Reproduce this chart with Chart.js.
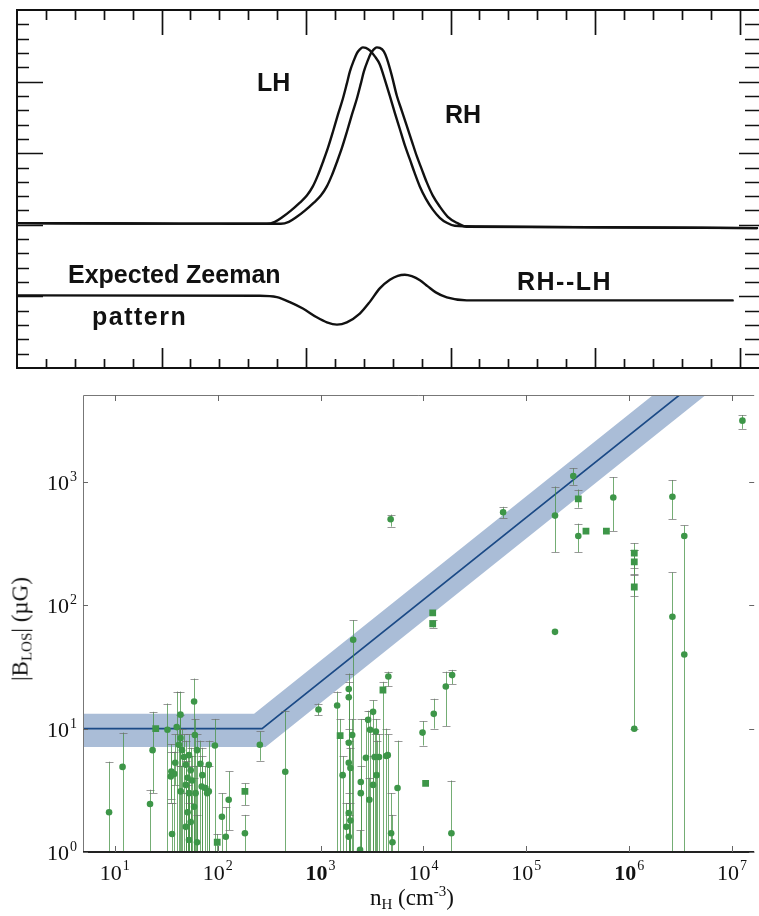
<!DOCTYPE html>
<html><head><meta charset="utf-8">
<script src="https://cdn.jsdelivr.net/npm/chart.js@4/dist/chart.umd.min.js"></script>
<style>
html,body{margin:0;padding:0;background:#fff;overflow:hidden;width:759px;height:916px;position:relative}
#cTop{position:absolute;left:0;top:0}
#cBot{position:absolute;left:0;top:380px}
.lbl{position:absolute;font-family:"Liberation Sans",Arial,sans-serif;font-weight:bold;font-size:25px;color:#111;white-space:nowrap;line-height:1}
.ax{position:absolute;font-family:"Liberation Serif","Times New Roman",serif;font-size:23px;color:#111;white-space:nowrap;line-height:1}
.sm{font-size:15px;position:relative}
</style></head><body>
<canvas id="cTop" width="759" height="380"></canvas>
<canvas id="cBot" width="759" height="536"></canvas>

<div class="lbl" style="left:257px;top:70px">LH</div>
<div class="lbl" style="left:445px;top:102px">RH</div>
<div class="lbl" style="left:68px;top:262px">Expected Zeeman</div>
<div class="lbl" style="left:92px;top:304px;letter-spacing:1.5px">pattern</div>
<div class="lbl" style="left:517px;top:269px;letter-spacing:1.5px">RH--LH</div>

<div class="ax" style="left:370px;top:886px">n<span class="sm" style="top:4px">H</span> (cm<span class="sm" style="top:-9px">-3</span>)</div>
<div class="ax" style="left:20px;top:629px;transform:translate(-50%,-50%) rotate(-90deg)">|B<span class="sm" style="top:4px">LOS</span>| (µG)</div>

<script>
// ---------- Top panel: Zeeman pattern (arbitrary channel / intensity units) ----------
const lhX = [0, 4, 7, 8.645, 8.921, 9.198, 9.474, 9.786, 10.028, 10.235, 10.408, 10.581, 10.754, 10.927, 11.100, 11.273, 11.411, 11.515, 11.653, 11.757, 11.861, 11.964, 12.068, 12.206, 12.379, 12.552, 12.725, 12.898, 13.071, 13.244, 13.416, 13.589, 13.762, 13.935, 14.142, 14.385, 14.627, 14.869, 15.145, 16, 20, 25.6];
const lhY = [10.12, 10.09, 10.08, 10.07, 10.21, 10.56, 10.99, 11.55, 12.04, 12.68, 13.45, 14.37, 15.35, 16.48, 17.68, 18.80, 19.86, 20.70, 21.48, 21.97, 22.25, 22.39, 22.36, 22.18, 21.76, 21.20, 20.14, 19.01, 17.82, 16.69, 15.56, 14.58, 13.59, 12.68, 11.83, 11.06, 10.49, 10.14, 9.93, 9.88, 9.83, 9.77];
const rhX = [0, 4, 7, 8.645, 9.129, 9.405, 9.682, 9.959, 10.270, 10.512, 10.719, 10.892, 11.065, 11.238, 11.411, 11.584, 11.757, 11.895, 11.999, 12.137, 12.241, 12.344, 12.448, 12.552, 12.690, 12.794, 12.967, 13.140, 13.313, 13.485, 13.658, 13.831, 14.004, 14.177, 14.385, 14.627, 14.903, 15.214, 15.560, 20, 25.6];
const rhY = [10.12, 10.09, 10.08, 10.07, 10.07, 10.21, 10.56, 10.99, 11.55, 12.04, 12.68, 13.45, 14.37, 15.35, 16.48, 17.68, 18.80, 19.86, 20.70, 21.48, 21.97, 22.25, 22.39, 22.36, 22.11, 21.62, 20.42, 19.01, 17.96, 16.90, 15.85, 14.79, 13.87, 12.96, 12.04, 11.27, 10.56, 10.14, 9.86, 9.83, 9.77];
const diffX = [0, 8.40, 8.99, 9.44, 9.89, 10.37, 10.72, 11.07, 11.41, 11.86, 12.20, 12.55, 12.90, 13.174, 13.416, 13.658, 13.94, 14.212, 14.488, 14.87, 15.56, 24.76];
const diffY = [5.07, 5.05, 4.95, 4.60, 4.15, 3.54, 3.19, 3.03, 3.19, 3.80, 4.60, 5.56, 6.16, 6.44, 6.51, 6.41, 6.13, 5.70, 5.28, 4.93, 4.72, 4.72];

// ---------- Bottom panel: |B_LOS| vs n_H ----------
const circN  = [8.8, 11.9, 22, 23.3, 32.5, 35.5, 36, 38.7, 40, 43.5, 43.5, 42, 45, 47, 49, 52.6, 54.7, 51, 56.5, 49, 52.6, 61, 59, 51, 54.7, 49, 52.6, 59, 60, 63, 63, 68, 71, 70, 76, 79, 82, 82, 94, 43.7, 37.8, 35, 110, 120, 128, 184, 257, 454, 955, 2075, 1450, 1880, 1880, 1880, 1880, 1950, 1640, 1880, 1950, 1780, 1880, 2030, 2460, 2460, 2420, 2760, 2900, 3030, 2980, 3240, 3240, 3350, 3450, 3500, 3700, 4560, 4350, 4500, 5600, 4850, 5000, 9800, 12600, 16500, 19000, 18700, 4800, 59500, 2.86e5, 1.9e5, 1.9e5, 3.2e5, 7.0e5, 1.12e6, 2.63e6, 2.63e6, 3.43e6, 3.43e6, 1.26e7];
const circB  = [2.1, 4.9, 2.45, 6.7, 9.8, 4.5, 1.4, 5.3, 10.3, 13, 8.4, 7.4, 6.7, 5.9, 5.1, 6.1, 4.6, 4.0, 3.8, 3.5, 3.0, 3.0, 2.33, 2.1, 1.75, 1.6, 1.25, 16.6, 8.9, 1.2, 6.7, 5.2, 4.2, 3.4, 3.3, 3.0, 5.1, 3.1, 7.3, 3.1, 4.3, 4.1, 1.93, 1.33, 2.65, 1.42, 7.4, 4.47, 14.3, 52.7, 15.4, 21, 18, 7.7, 5.3, 4.8, 4.2, 2.07, 1.8, 1.6, 1.33, 8.9, 3.7, 3.0, 1.04, 5.8, 11.8, 9.8, 2.65, 13.7, 3.5, 5.9, 9.5, 4.2, 5.9, 26.5, 6.0, 6.1, 3.3, 1.42, 1.2, 9.3, 13.2, 22, 27.2, 1.42, 500, 570, 1120, 535, 61, 365, 750, 10, 760, 81, 365, 40, 3150];
const circLo = [0.5, 0.5, 0.5, 3.0, 0.5, 2.7, 0.5, 3.5, 0.5, 0.5, 5, 0.5, 0.5, 0.5, 0.5, 0.5, 0.5, 0.5, 0.5, 0.5, 0.5, 0.5, 0.5, 0.5, 0.5, 0.5, 0.5, 0.5, 0.5, 0.5, 0.5, 0.5, 0.5, 0.5, 0.5, 0.5, 0.5, 0.5, 0.5, 0.5, 0.5, 2.5, 0.5, 0.5, 1.5, 0.5, 5.5, 0.5, 12.8, 0.5, 0.5, 0.5, 0.5, 0.5, 0.5, 0.5, 0.5, 0.5, 0.5, 0.5, 0.5, 0.5, 0.5, 0.5, 0.5, 0.5, 0.5, 0.5, 0.5, 0.5, 0.5, 0.5, 0.5, 0.5, 0.5, 22, 0.5, 0.5, 0.5, 0.5, 0.5, 7.3, 10, 10.5, 23, 0.5, 435, 510, 950, 270, 61, 270, 400, 10, 500, 0.5, 0.5, 40, 2700];
const circHi = [5.4, 9.3, 3.2, 13.7, 16, 7.5, 2.5, 9, 20, 20, 13, 10, 10, 9, 8, 9, 7, 6, 6, 5.5, 5, 5, 4, 3.5, 3, 3, 2.5, 25.5, 12, 2, 9, 8, 7, 6, 5, 5, 8, 5, 12, 5, 6.5, 6.5, 3, 2.3, 4.5, 2, 9.5, 14, 16, 76, 20, 28, 24, 10, 8, 7, 6, 3, 2.5, 2.5, 2, 12, 12, 5, 1.5, 12, 14, 14, 4, 17, 6, 9, 12, 8, 9, 29, 10, 9, 8, 3, 2, 11.5, 17.5, 29, 30, 3.8, 545, 630, 1300, 920, 61, 460, 1100, 280, 1040, 185, 445, 40, 3500];

const sqN  = [25, 184, 99, 1550, 4040, 10500, 12300, 12300, 3.2e5, 3.8e5, 6.0e5, 1.12e6, 1.12e6, 1.12e6];
const sqB  = [10, 3.1, 1.2, 8.8, 20.6, 3.6, 87, 71, 730, 400, 400, 265, 225, 141];
const sqLo = [10, 2.4, 0.5, 0.5, 0.5, 3.6, 87, 66, 620, 400, 400, 200, 180, 120];
const sqHi = [10, 3.6, 1.4, 12, 24, 3.6, 87, 76, 870, 400, 400, 320, 280, 175];

// fit (flat 10 uG below the knee, power law above) and its uncertainty band
const fitN = [3, 270, 3e7];
const fitB = [10, 10, 23200];
const bandUpN = [3, 226, 3e7];
const bandUpB = [13.2, 13.2, 34400];
const bandLoN = [3, 292, 3e7];
const bandLoB = [7.1, 7.1, 15700];

const xTickExp = [1, 2, 3, 4, 5, 6, 7];
const yTickExp = [0, 1, 2, 3];

// ---------- helpers ----------
const xy = (X, Y) => X.map((x, i) => ({x: x, y: Y[i]}));

const boxTicks = {
  id: 'boxTicks',
  afterDraw(chart) {
    const {ctx, chartArea: a, scales: {x, y}} = chart;
    ctx.save();
    ctx.strokeStyle = '#111';
    ctx.lineWidth = 2;
    ctx.beginPath();
    ctx.moveTo(a.right + 2, a.top); ctx.lineTo(a.left, a.top); ctx.lineTo(a.left, a.bottom); ctx.lineTo(a.right + 2, a.bottom);
    ctx.stroke();
    ctx.lineWidth = 1.7;
    ctx.beginPath();
    for (let v = 1; v <= 25; v++) {
      const px = Math.round(x.getPixelForValue(v)) + 0.5;
      const major = v % 5 === 0;
      ctx.moveTo(px, a.top); ctx.lineTo(px, a.top + (major ? 25 : 10));
      ctx.moveTo(px, a.bottom); ctx.lineTo(px, a.bottom - (major ? 20 : 9));
    }
    for (let v = 1; v < 25; v++) {
      const py = Math.round(y.getPixelForValue(v)) + 0.5;
      const major = v % 5 === 0;
      ctx.moveTo(a.left, py); ctx.lineTo(a.left + (major ? 26 : 12), py);
      ctx.moveTo(a.right, py); ctx.lineTo(a.right - (major ? 20 : 14), py);
    }
    ctx.stroke();
    ctx.restore();
  }
};

const curve = (X, Y) => ({data: xy(X, Y), showLine: true, borderColor: '#111', borderWidth: 2.4, pointRadius: 0, cubicInterpolationMode: 'monotone', borderJoinStyle: 'round', borderCapStyle: 'round'});

new Chart(document.getElementById('cTop'), {
  type: 'scatter',
  data: {datasets: [curve(lhX, lhY), curve(rhX, rhY), curve(diffX, diffY)]},
  options: {
    responsive: false, animation: false, events: [],
    layout: {padding: {left: 17, right: 0, top: 10, bottom: 12}},
    plugins: {legend: {display: false}, tooltip: {enabled: false}},
    scales: {
      x: {type: 'linear', min: 0, max: 25.67, display: false},
      y: {type: 'linear', min: 0, max: 25, display: false}
    }
  },
  plugins: [boxTicks]
});

// error bars for the bottom panel, drawn right after the fit line (below markers)
const errSets = {0: [circN, circLo, circHi], 1: [sqN, sqLo, sqHi]};
const errPlugin = {
  id: 'errBars',
  afterDatasetDraw(chart, args) {
    if (args.index !== 2) return;
    const {ctx, chartArea: a, scales: {x, y}} = chart;
    ctx.save();
    ctx.beginPath(); ctx.rect(a.left, a.top, a.right - a.left, a.bottom - a.top); ctx.clip();
    for (const k of [0, 1]) {
      const [N, L, H] = errSets[k];
      for (let i = 0; i < N.length; i++) {
        if (L[i] === H[i]) continue;
        const px = Math.round(x.getPixelForValue(N[i])) + 0.5;
        const y1 = y.getPixelForValue(L[i]);
        const y2 = y.getPixelForValue(H[i]);
        ctx.strokeStyle = 'rgba(70,145,70,0.75)';
        ctx.lineWidth = 1;
        ctx.beginPath(); ctx.moveTo(px, y1); ctx.lineTo(px, y2); ctx.stroke();
        ctx.strokeStyle = 'rgba(110,110,110,0.7)';
        ctx.beginPath();
        ctx.moveTo(px - 4, Math.round(y2) + 0.5); ctx.lineTo(px + 4, Math.round(y2) + 0.5);
        if (L[i] >= 1) { ctx.moveTo(px - 4, Math.round(y1) + 0.5); ctx.lineTo(px + 4, Math.round(y1) + 0.5); }
        ctx.stroke();
      }
    }
    ctx.restore();
  }
};

const boldExp = new Set([3, 6]);
const axesPlugin = {
  id: 'logAxes',
  afterDraw(chart) {
    const {ctx, chartArea: a, scales: {x, y}} = chart;
    ctx.save();
    ctx.strokeStyle = '#777'; ctx.lineWidth = 1;
    ctx.beginPath();
    ctx.moveTo(a.left + 0.5, a.bottom); ctx.lineTo(a.left + 0.5, a.top + 0.5); ctx.lineTo(a.right, a.top + 0.5);
    ctx.stroke();
    ctx.strokeStyle = '#222'; ctx.lineWidth = 2;
    ctx.beginPath(); ctx.moveTo(a.left, a.bottom); ctx.lineTo(a.right, a.bottom); ctx.stroke();
    ctx.strokeStyle = '#666'; ctx.lineWidth = 1;
    ctx.beginPath();
    for (const e of xTickExp) {
      const px = Math.round(x.getPixelForValue(Math.pow(10, e))) + 0.5;
      ctx.moveTo(px, a.bottom); ctx.lineTo(px, a.bottom - 6);
      ctx.moveTo(px, a.top); ctx.lineTo(px, a.top + 6);
    }
    for (const e of yTickExp) {
      const py = Math.round(y.getPixelForValue(Math.pow(10, e))) + 0.5;
      ctx.moveTo(a.left, py); ctx.lineTo(a.left + 5, py);
      ctx.moveTo(a.right, py); ctx.lineTo(a.right - 5, py);
    }
    ctx.stroke();
    ctx.fillStyle = '#111';
    ctx.textBaseline = 'alphabetic';
    const big = 'px "Liberation Serif", "Times New Roman", serif';
    for (const e of yTickExp) {
      const py = y.getPixelForValue(Math.pow(10, e));
      ctx.font = '14' + big;
      const ws = ctx.measureText(String(e)).width;
      ctx.textAlign = 'left';
      ctx.fillText(String(e), 77 - ws, py - 1);
      ctx.font = '22' + big;
      ctx.textAlign = 'right';
      ctx.fillText('10', 77 - ws - 1, py + 8);
    }
    for (const e of xTickExp) {
      const px = x.getPixelForValue(Math.pow(10, e));
      ctx.font = (boldExp.has(e) ? 'bold 22' : '22') + big;
      const w10 = ctx.measureText('10').width;
      ctx.font = '14' + big;
      const ws = ctx.measureText(String(e)).width;
      const left = px - (w10 + ws + 1) / 2;
      ctx.textAlign = 'left';
      ctx.font = (boldExp.has(e) ? 'bold 22' : '22') + big;
      ctx.fillText('10', left, 500);
      ctx.font = '14' + big;
      ctx.fillText(String(e), left + w10 + 1, 490);
    }
    ctx.restore();
  }
};

const green = '#3d9648';
new Chart(document.getElementById('cBot'), {
  type: 'scatter',
  data: {datasets: [
    {data: xy(circN, circB), pointStyle: 'circle', pointRadius: 3.3, backgroundColor: green, borderColor: green, borderWidth: 0, order: 0},
    {data: xy(sqN, sqB), pointStyle: 'rect', pointRadius: 4.8, backgroundColor: green, borderColor: green, borderWidth: 0, order: 0},
    {data: xy(fitN, fitB), showLine: true, borderColor: '#1b4a86', borderWidth: 1.7, pointRadius: 0, order: 1},
    {data: xy(bandUpN, bandUpB), showLine: true, borderColor: 'rgba(0,0,0,0)', borderWidth: 0, pointRadius: 0, fill: '+1', backgroundColor: '#aabdd7', order: 2},
    {data: xy(bandLoN, bandLoB), showLine: true, borderColor: 'rgba(0,0,0,0)', borderWidth: 0, pointRadius: 0, order: 3}
  ]},
  options: {
    responsive: false, animation: false, events: [],
    layout: {padding: {left: 83, right: 0, top: 15, bottom: 64}},
    plugins: {legend: {display: false}, tooltip: {enabled: false}},
    scales: {
      x: {type: 'logarithmic', min: 4.91, max: 1.64e7, display: false},
      y: {type: 'logarithmic', min: 1, max: 5085, display: false}
    }
  },
  plugins: [errPlugin, axesPlugin]
});
</script>
</body></html>
